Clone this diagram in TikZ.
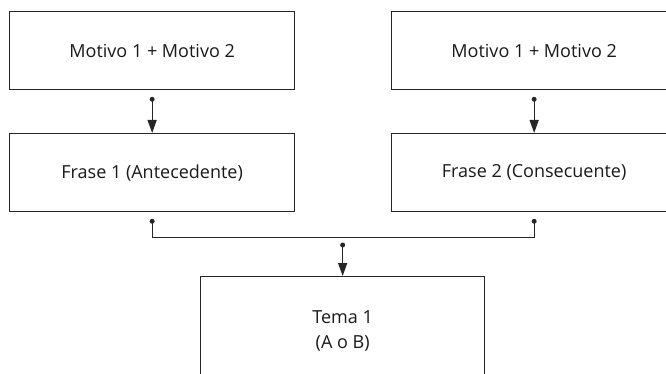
\documentclass[tikz,border=0pt]{standalone}
\usepackage{fontspec}
\setmainfont{Open Sans}
\usetikzlibrary{arrows.meta,calc}
\definecolor{ln}{HTML}{262626}
\begin{document}
\begin{tikzpicture}[x=1pt,y=-1pt,
  box/.style={draw=ln,line width=1.3pt,minimum width=285pt,minimum height=78pt,
    inner sep=0pt,font=\fontsize{18}{25}\selectfont,text=black!90,align=center,anchor=north west},
  conn/.style={draw=ln,line width=1.3pt},
  arr/.style={conn,-{Triangle[length=13pt,width=9pt]}},
  dotc/.style={fill=ln,radius=2.5pt}]
\useasboundingbox (0,0) rectangle (666,374);
\node[box] (m1) at (9,11) {Motivo 1 + Motivo 2};
\node[box] (f1) at (9,133) {Frase 1 (Antecedente)};
\node[box] (m2) at (391,11) {Motivo 1 + Motivo 2};
\node[box] (f2) at (391,133) {Frase 2 (Consecuente)};
\node[box,minimum width=284pt,minimum height=108pt] (t) at (200,276) {Tema 1\\(A o B)};
\coordinate (a1) at ($(m1.south)+(0,9)$);
\coordinate (a2) at ($(m2.south)+(0,9)$);
\coordinate (b1) at ($(f1.south)+(0,9)$);
\coordinate (b2) at ($(f2.south)+(0,9)$);
\coordinate (c) at ($(t.north)+(0,-31)$);
\draw[arr] (a1) -- (f1.north);
\draw[arr] (a2) -- (f2.north);
\draw[conn] (b1) -- ++(0,16) -| (b2);
\draw[arr] (c) -- (t.north);
\foreach \p in {a1,a2,b1,b2,c} \fill[dotc] (\p) circle;
\end{tikzpicture}
\end{document}
